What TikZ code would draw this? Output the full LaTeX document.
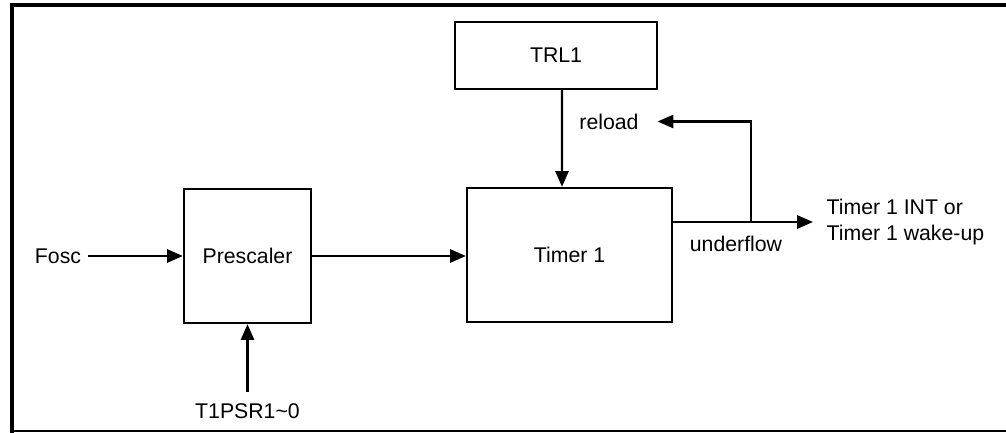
\documentclass[tikz,border=0pt]{standalone}
\usepackage{fontspec}
\setmainfont{Liberation Sans}
\usetikzlibrary{arrows.meta, positioning, calc}

\begin{document}
\begin{tikzpicture}[>={Triangle[length=9pt, width=7.5pt]}, line width=1.3pt,
    every node/.style={font=\fontsize{12.1}{14.8}\selectfont},
    block/.style={draw, line width=1.3pt}]

    \useasboundingbox (0,0) rectangle (20.12,8.66);

    % --- 1. Frame ---
    \draw[line width=2.3pt] (20.3,8.56) -- (0.24,8.56) -- (0.24,0.0);
    \draw[line width=0.6pt] (0.24,0.04) -- (20.12,0.04);

    % --- 2. Blocks ---
    \node[block, minimum width=2.54cm, minimum height=2.68cm] (pre) at (4.95,3.54) {Prescaler};
    \node[block, minimum width=4.10cm, minimum height=2.68cm] (timer) at (11.39,3.56) {Timer 1};
    \node[block, minimum width=4.04cm, minimum height=1.34cm] (trl) at (11.12,7.55) {TRL1};

    % --- 3. Signal labels ---
    \node (fosc) at (1.16,3.54) {Fosc};
    \node (psr) at (4.95,0.43) {T1PSR1\textasciitilde0};
    \node (reload) at (12.18,6.23) {reload};
    \node (uflow) at (14.72,3.79) {underflow};
    \node[anchor=west, align=left, inner xsep=0.25cm] (out) at (16.26,4.22) {Timer 1 INT or\\Timer 1 wake-up};
    \coordinate (split) at (15.02,4.21);

    % --- 4. Connections ---
    \draw[->] (fosc.east) -- (pre.west);
    \draw[->] (pre.east) -- (pre.east -| timer.west);
    \draw[->] ([yshift=0.1cm]psr.north) -- (pre.south);
    \draw[->] ([xshift=0.12cm]trl.south) -- ([xshift=-0.15cm]timer.north);
    \draw[->] (timer.east |- out.west) -- (out.west);
    \draw[->] (split) |- ([xshift=0.24cm]reload.east);

\end{tikzpicture}
\end{document}
